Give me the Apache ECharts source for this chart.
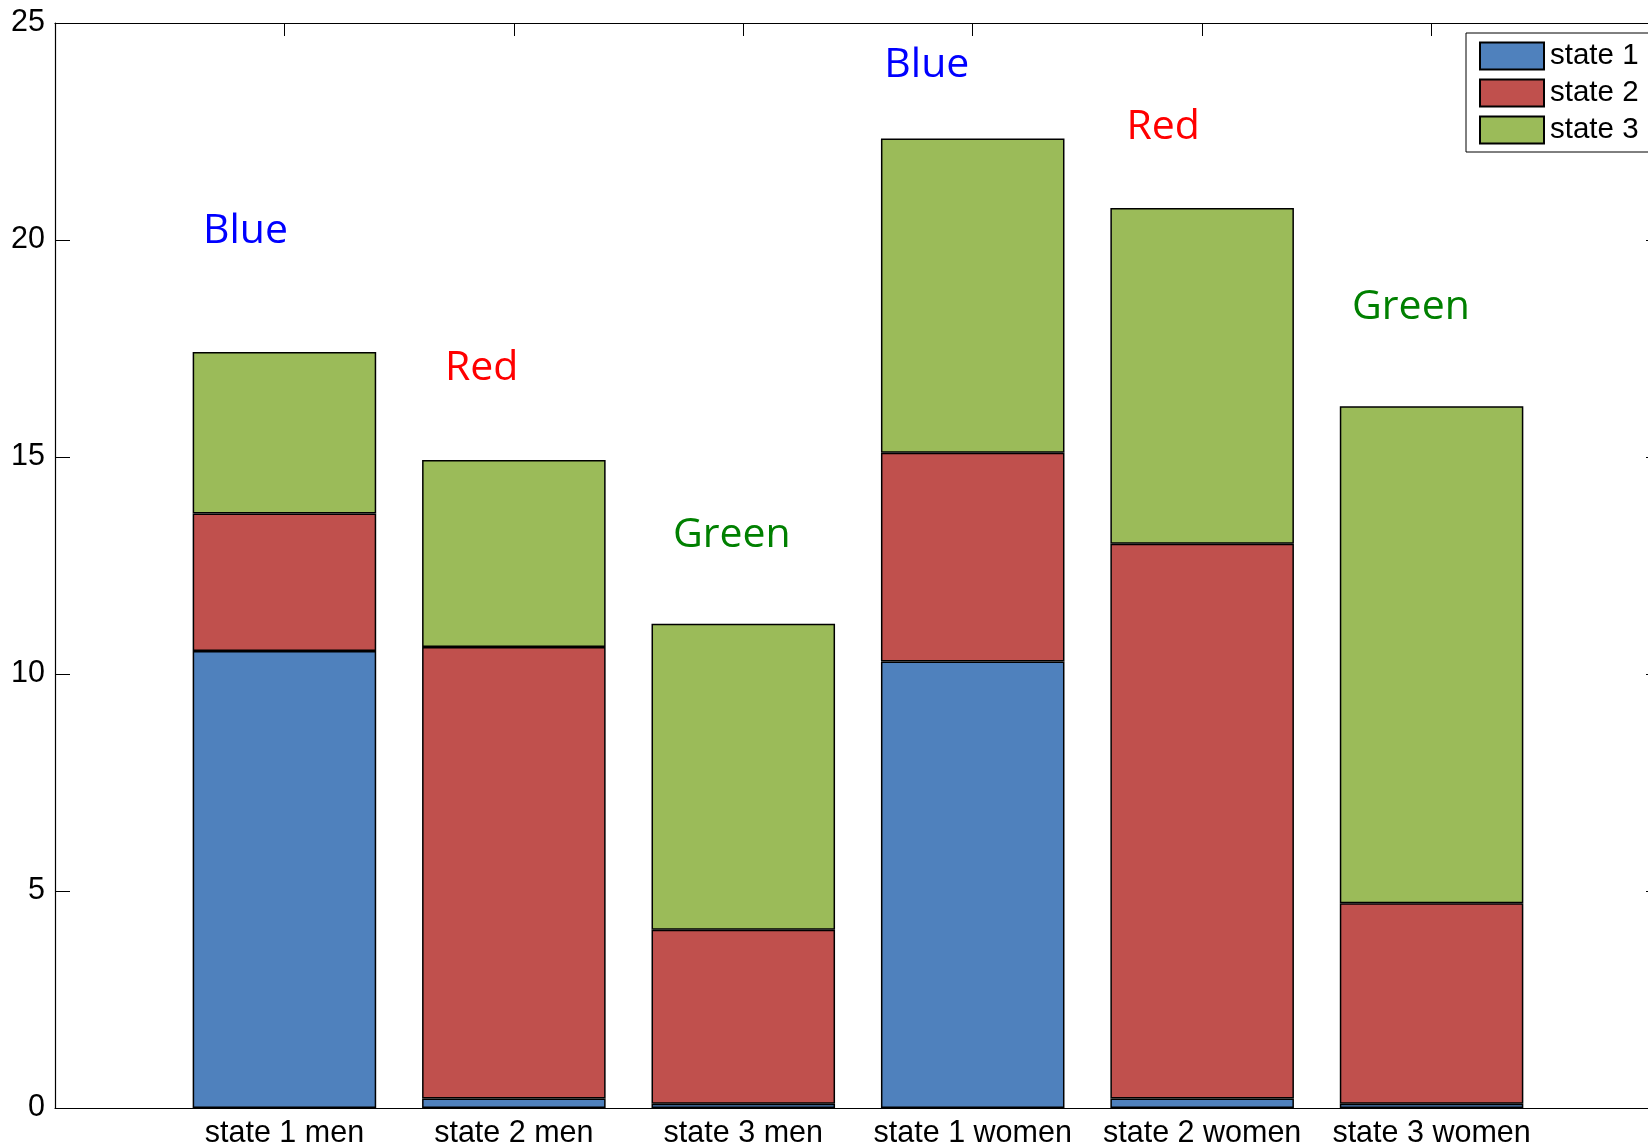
<!DOCTYPE html>
<html>
<head>
<meta charset="utf-8">
<script src="https://cdn.jsdelivr.net/npm/echarts@6/dist/echarts.min.js"></script>
<style>
html,body{margin:0;padding:0;background:#fff;}
#chart{width:1648px;height:1143px;}
</style>
</head>
<body>
<div id="chart"></div>
<script>
const categories = ['state 1 men', 'state 2 men', 'state 3 men', 'state 1 women', 'state 2 women', 'state 3 women'];
const seriesNames = ['state 1', 'state 2', 'state 3'];
const state1 = [10.53, 0.22, 0.10, 10.29, 0.22, 0.10];
const state2 = [3.17, 10.40, 4.01, 4.81, 12.78, 4.62];
const state3 = [3.72, 4.31, 7.05, 7.24, 7.74, 11.45];
const yMin = 0, yMax = 25, yStep = 5;
const noteText = ['Blue', 'Red', 'Green', 'Blue', 'Red', 'Green'];
const noteX = [0.83, 1.86, 2.95, 3.80, 4.83, 5.91];
const noteY = [20.2, 17.05, 13.2, 24.03, 22.6, 18.46];

const noteColors = { Blue: '#0000FF', Red: '#FF0000', Green: '#008000' };
const barColors = ['#4F81BD', '#C0504D', '#9BBB59'];
const axisCats = [''].concat(categories, ['']);
const pad = arr => [null].concat(arr, [null]);
const font = 'Liberation Sans';
const gridBox = { left: 55, top: 23, bottom: 35, right: -13, containLabel: false, outerBoundsMode: 'none' };

const chart = echarts.init(document.getElementById('chart'));
const stacks = [state1, state2, state3];
const barSeries = stacks.map((vals, i) => ({
  name: seriesNames[i],
  type: 'bar',
  stack: 'total',
  xAxisIndex: 0,
  yAxisIndex: 0,
  barWidth: '80%',
  data: pad(vals),
  itemStyle: { color: barColors[i], borderColor: '#000', borderWidth: 1.5 },
  emphasis: { disabled: true },
  animation: false
}));

const option = {
  animation: false,
  grid: [Object.assign({}, gridBox), Object.assign({}, gridBox)],
  legend: {
    data: seriesNames,
    orient: 'vertical',
    left: 1466,
    top: 33,
    padding: [8, 40, 7, 13],
    itemWidth: 64,
    itemHeight: 27,
    itemGap: 7,
    icon: 'rect',
    borderColor: '#000',
    borderWidth: 1,
    backgroundColor: '#fff',
    textStyle: { fontFamily: font, fontSize: 29.5, lineHeight: 27, color: '#000', padding: [0, 0, 0, 1] }
  },
  xAxis: [
    {
      gridIndex: 0, type: 'category', position: 'bottom', data: axisCats, boundaryGap: false,
      axisLine: { onZero: false, lineStyle: { color: '#000', width: 1.2 } },
      axisTick: { show: false },
      axisLabel: { interval: 0, fontFamily: font, fontSize: 30.5, color: '#000', margin: 10 },
      splitLine: { show: false }
    },
    {
      gridIndex: 0, type: 'category', position: 'top', data: axisCats, boundaryGap: false,
      axisLine: { onZero: false, lineStyle: { color: '#000', width: 1.2 } },
      axisTick: { show: true, inside: true, length: 13, interval: 0, lineStyle: { color: '#000' } },
      axisLabel: { show: false },
      splitLine: { show: false }
    },
    {
      gridIndex: 1, type: 'value', min: 0, max: 7, show: false
    }
  ],
  yAxis: [
    {
      gridIndex: 0, type: 'value', position: 'left', min: yMin, max: yMax, interval: yStep,
      axisLine: { show: true, onZero: false, lineStyle: { color: '#000', width: 1.2 } },
      axisTick: { show: true, inside: true, length: 15, lineStyle: { color: '#000' } },
      axisLabel: { fontFamily: font, fontSize: 30.5, color: '#000', margin: 10 },
      splitLine: { show: false }
    },
    {
      gridIndex: 0, type: 'value', position: 'right', min: yMin, max: yMax, interval: yStep,
      axisLine: { show: true, onZero: false, lineStyle: { color: '#000', width: 1.2 } },
      axisTick: { show: true, inside: true, length: 15, lineStyle: { color: '#000' } },
      axisLabel: { show: false },
      splitLine: { show: false }
    },
    {
      gridIndex: 1, type: 'value', min: yMin, max: yMax, show: false
    }
  ],
  series: barSeries.concat([{
    type: 'scatter',
    xAxisIndex: 2,
    yAxisIndex: 2,
    symbolSize: 1,
    itemStyle: { color: 'transparent', opacity: 1 },
    silent: true,
    z: 5,
    data: noteText.map((t, i) => ({
      value: [noteX[i], noteY[i]],
      name: t,
      label: { color: noteColors[t] }
    })),
    label: {
      show: true, position: 'inside', formatter: p => p.name, opacity: 1,
      fontFamily: 'Open Sans', fontSize: 41
    }
  }])
};
chart.setOption(option);
</script>
</body>
</html>
